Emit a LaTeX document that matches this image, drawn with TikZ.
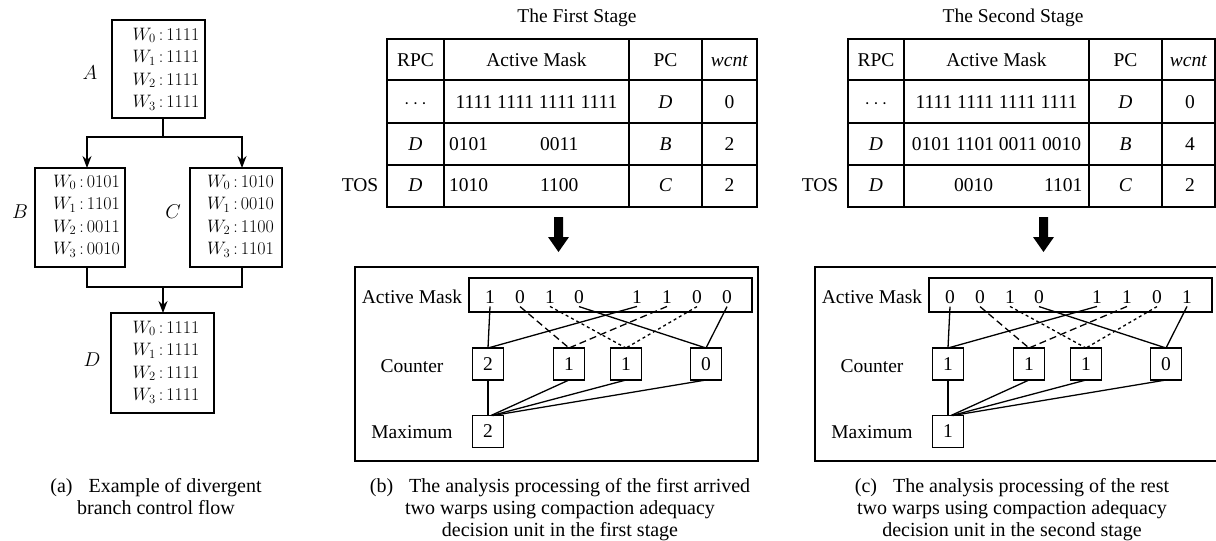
\documentclass[tikz,border=0pt]{standalone}
\usepackage{fix-cm}
\usepackage[no-math]{fontspec}
\setmainfont{Liberation Serif}
\usetikzlibrary{arrows.meta,calc}
\tikzset{
  every node/.style={inner sep=0pt,outer sep=0pt},
  tx/.style={font=\fontsize{19.5}{23}\selectfont},
  capt/.style={font=\fontsize{20}{22}\selectfont,align=center},
  wtxt/.style={font=\fontsize{18}{22.5}\selectfont,align=left},
  blbl/.style={font=\fontsize{20}{24}\selectfont},
  fbox/.style={draw,line width=1.4pt},
  tbl/.style={line width=1.5pt},
  pbox/.style={draw,line width=1.3pt,minimum width=403pt,minimum height=194pt},
  mbar/.style={draw,line width=1.3pt,minimum width=283pt,minimum height=34pt},
  cbox/.style={draw,line width=1.3pt,minimum width=31pt,minimum height=32pt,font=\fontsize{19.5}{23}\selectfont},
  dig/.style={font=\fontsize{19.5}{23}\selectfont,inner ysep=3pt},
  ln/.style={line width=1.3pt},
  dsh/.style={dash pattern=on 7pt off 4pt},
  dtt/.style={dash pattern=on 3pt off 3pt},
  arr/.style={line width=1.4pt,-{Stealth[length=12pt,width=9pt]}},
}
\newcommand\cadpanel[5]{%
\begin{scope}[xshift=#2]
\node[pbox] (#1box) at (556.5,364) {};
\node[mbar] (#1bar) at (610.5,295) {};
\node[tx] (#1lm) at (412,297) {Active Mask};
\node[tx] (#1lc) at (412,366) {Counter};
\node[tx] (#1lx) at (412,432) {Maximum};
\foreach \v [count=\i] in {#3}{%
  \pgfmathsetmacro\px{{490,520,550,579,637,667,697,727}[\i-1]}%
  \node[dig] (#1d\i) at (\px,297) {\v};}
\foreach \v [count=\i] in {#4}{%
  \pgfmathsetmacro\px{{488,569,626,706}[\i-1]}%
  \node[cbox] (#1c\i) at (\px,364) {\v};}
\node[cbox] (#1mx) at (488,431.5) {#5};
\draw[ln] (#1d1.south) -- (#1c1.north);
\draw[ln] (#1d5.south) -- (#1c1.north);
\draw[ln,dsh] (#1d2.south) -- (#1c2.north);
\draw[ln,dsh] (#1d6.south) -- (#1c2.north);
\draw[ln,dtt] (#1d3.south) -- (#1c3.north);
\draw[ln,dtt] (#1d7.south) -- (#1c3.north);
\draw[ln] (#1d4.south) -- (#1c4.north);
\draw[ln] (#1d8.south) -- (#1c4.north);
\draw[ln] (#1c1.south) -- (#1mx.north);
\draw[ln] (#1c2.south) -- ([xshift=3pt]#1mx.north);
\draw[ln] (#1c3.south) -- ([xshift=4pt]#1mx.north);
\draw[ln] (#1c4.south) -- ([xshift=5pt]#1mx.north);
\end{scope}}
\begin{document}
\begin{tikzpicture}[x=1pt,y=-1pt]
\useasboundingbox (0,0) rectangle (1216,541);
% ---------- panel (a)
\node[fbox,minimum width=93pt,minimum height=98pt] (A) at (158.5,69) {};
\node[wtxt] (At) at (166,69) {$W_0\,{:}\,1111$\\$W_1\,{:}\,1111$\\$W_2\,{:}\,1111$\\$W_3\,{:}\,1111$};
\node[fbox,minimum width=90pt,minimum height=99pt] (B) at (80,217.5) {};
\node[wtxt] (Bt) at (86.5,216) {$W_0\,{:}\,0101$\\$W_1\,{:}\,1101$\\$W_2\,{:}\,0011$\\$W_3\,{:}\,0010$};
\node[fbox,minimum width=92pt,minimum height=99pt] (C) at (236,217.5) {};
\node[wtxt] (Ct) at (240.5,216) {$W_0\,{:}\,1010$\\$W_1\,{:}\,0010$\\$W_2\,{:}\,1100$\\$W_3\,{:}\,1101$};
\node[fbox,minimum width=103pt,minimum height=100pt] (D) at (162.5,363) {};
\node[wtxt] (Dt) at (166,362) {$W_0\,{:}\,1111$\\$W_1\,{:}\,1111$\\$W_2\,{:}\,1111$\\$W_3\,{:}\,1111$};
\node[blbl] (LA) at (90,73) {$A$};
\node[blbl] (LB) at (20,212) {$B$};
\node[blbl] (LC) at (173,212) {$C$};
\node[blbl] (LD) at (92,360) {$D$};
\coordinate (jA) at (163,137);
\coordinate (jD) at (163,287);
\draw[ln] (jA |- A.south) -- (jA);
\draw[arr] (jA) -| ([xshift=7pt]B.north);
\draw[arr] (jA) -| ([xshift=6pt]C.north);
\draw[ln] ([xshift=7pt]B.south) |- (jD);
\draw[ln] ([xshift=6pt]C.south) |- (jD);
\draw[arr] (jD) -- (jD |- D.north);
\node[capt] (capa) at (156,497) {(a)\hspace{0.8em}Example of divergent\\branch control flow};
% ---------- panel (b) table
\node[tx] (tb) at (577,18) {The First Stage};
\draw[tbl] (387,39) rectangle (757,207);
\foreach \x in {444,629,702} \draw[tbl] (\x,39) -- (\x,207);
\foreach \y in {80,123,165} \draw[tbl] (387,\y) -- (757,\y);
\node[tx,anchor=base] (tb01) at (415.5,66.5) {RPC};
\node[tx,anchor=base] (tb02) at (536.5,66.5) {Active Mask};
\node[tx,anchor=base] (tb03) at (665.5,66.5) {PC};
\node[tx,anchor=base] (tb04) at (729.5,66.5) {\textit{wcnt}};
\node[tx,anchor=base] (tb11) at (415.5,108) {$\cdots$};
\node[tx,anchor=base] (tb12) at (536.5,108) {1111 1111 1111 1111};
\node[tx,anchor=base] (tb13) at (665.5,108) {\textit{D}};
\node[tx,anchor=base] (tb14) at (729.5,108) {0};
\node[tx,anchor=base] (tb21) at (415.5,150) {\textit{D}};
\node[tx,anchor=base west] (tb22) at (449,150) {0101};
\node[tx,anchor=base west] (tb22b) at (540,150) {0011};
\node[tx,anchor=base] (tb23) at (665.5,150) {\textit{B}};
\node[tx,anchor=base] (tb24) at (729.5,150) {2};
\node[tx,anchor=base] (tb31) at (415.5,191) {\textit{D}};
\node[tx,anchor=base west] (tb32) at (449,191) {1010};
\node[tx,anchor=base west] (tb32b) at (540,191) {1100};
\node[tx,anchor=base] (tb33) at (665.5,191) {\textit{C}};
\node[tx,anchor=base] (tb34) at (729.5,191) {2};
\node[tx,anchor=base] (tosb) at (360,191) {TOS};
\fill (554,217) -- (563,217) -- (563,237) -- (569,237) -- (558.5,252) -- (548,237) -- (554,237) -- cycle;
\cadpanel{b}{0pt}{1,0,1,0,1,1,0,0}{2,1,1,0}{2}
\node[capt] (capb) at (560,510) {(b)\hspace{0.8em}The analysis processing of the first arrived\\two warps using compaction adequacy\\decision unit in the first stage};
% ---------- panel (c) table
\node[tx] (tc) at (1013,18) {The Second Stage};
\draw[tbl] (848,39) rectangle (1215,207);
\foreach \x in {904,1089,1162} \draw[tbl] (\x,39) -- (\x,207);
\foreach \y in {80,123,165} \draw[tbl] (848,\y) -- (1215,\y);
\node[tx,anchor=base] (tc01) at (876,66.5) {RPC};
\node[tx,anchor=base] (tc02) at (996.5,66.5) {Active Mask};
\node[tx,anchor=base] (tc03) at (1125.5,66.5) {PC};
\node[tx,anchor=base] (tc04) at (1188.5,66.5) {\textit{wcnt}};
\node[tx,anchor=base] (tc11) at (876,108) {$\cdots$};
\node[tx,anchor=base] (tc12) at (996.5,108) {1111 1111 1111 1111};
\node[tx,anchor=base] (tc13) at (1125.5,108) {\textit{D}};
\node[tx,anchor=base] (tc14) at (1190,108) {0};
\node[tx,anchor=base] (tc21) at (876,150) {\textit{D}};
\node[tx,anchor=base] (tc22) at (996.5,150) {0101 1101 0011 0010};
\node[tx,anchor=base] (tc23) at (1125.5,150) {\textit{B}};
\node[tx,anchor=base] (tc24) at (1190,150) {4};
\node[tx,anchor=base] (tc31) at (876,191) {\textit{D}};
\node[tx,anchor=base west] (tc32) at (954,191) {0010};
\node[tx,anchor=base west] (tc32b) at (1044,191) {1101};
\node[tx,anchor=base] (tc33) at (1125.5,191) {\textit{C}};
\node[tx,anchor=base] (tc34) at (1190,191) {2};
\node[tx,anchor=base] (tosc) at (820,191) {TOS};
\fill (1039,217) -- (1048,217) -- (1048,237) -- (1054,237) -- (1043.5,252) -- (1033,237) -- (1039,237) -- cycle;
\cadpanel{c}{460pt}{0,0,1,0,1,1,0,1}{1,1,1,0}{1}
\node[capt] (capc) at (1012,510) {(c)\hspace{0.8em}The analysis processing of the rest\\two warps using compaction adequacy\\decision unit in the second stage};
\end{tikzpicture}
\end{document}
